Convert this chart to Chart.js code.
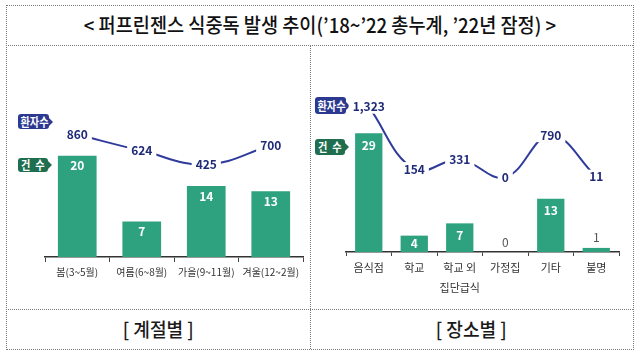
<!DOCTYPE html>
<html><head><meta charset="utf-8">
<script src="https://cdn.jsdelivr.net/npm/chart.js@4.4.1/dist/chart.umd.min.js"></script>
<style>
html,body{margin:0;padding:0;background:#fff;width:640px;height:358px;overflow:hidden;font-family:'Noto Sans CJK KR','Noto Sans',sans-serif;}
.b{position:absolute;border-color:#7a7a7a;border-style:dotted;border-width:0;}
.title{position:absolute;left:6px;top:5px;width:627px;height:40px;line-height:40px;text-align:center;font-size:20px;font-weight:500;color:#111;}
.title span{display:inline-block;transform:scaleX(0.93);white-space:nowrap;}
.cap{position:absolute;top:309px;height:40px;line-height:40px;text-align:center;font-size:19px;font-weight:500;color:#1a1a1a;}
.cap span{display:inline-block;transform:scaleX(0.95);white-space:pre;}
.badge{position:absolute;color:#fff;font-weight:bold;font-size:12px;text-align:center;border-radius:3px;white-space:pre;}
.badge span{display:inline-block;transform:scaleX(0.85);white-space:pre;word-spacing:3px;}
.badge:after{content:"";position:absolute;right:-4px;top:50%;margin-top:-4px;border-left:4px solid var(--c);border-top:4px solid transparent;border-bottom:4px solid transparent;}
canvas{position:absolute;}
</style></head>
<body>
<div class="b" style="left:6px;top:5px;width:626px;height:343px;border-width:1px;"></div>
<div class="b" style="left:6px;top:45px;width:627px;height:0;border-top-width:1px;"></div>
<div class="b" style="left:6px;top:309px;width:627px;height:0;border-top-width:1px;"></div>
<div class="b" style="left:310px;top:45px;width:0;height:304px;border-left-width:1px;"></div>
<div class="title"><span>&lt; 퍼프린젠스 식중독 발생 추이(’18~’22 총누계, ’22년 잠정) &gt;</span></div>
<div class="cap" style="left:6px;width:304px;"><span>[ 계절별 ]</span></div>
<div class="cap" style="left:310px;width:323px;"><span>[ 장소별 ]</span></div>

<div class="badge" style="--c:#2b3990;background:#2b3990;left:18px;top:114px;width:31px;height:15px;line-height:15px;"><span>환자수</span></div>
<div class="badge" style="--c:#1f6e4f;background:#1f6e4f;left:18px;top:158px;width:30px;height:14px;line-height:14px;"><span>건 수</span></div>
<div class="badge" style="--c:#2b3990;background:#2b3990;left:315px;top:97px;width:31px;height:17px;line-height:17px;"><span>환자수</span></div>
<div class="badge" style="--c:#1f6e4f;background:#1f6e4f;left:315px;top:139px;width:30px;height:16px;line-height:16px;"><span>건 수</span></div>

<canvas id="c1" width="310" height="310" style="left:0;top:0;width:310px;height:310px;"></canvas>
<canvas id="c2" width="323" height="310" style="left:310px;top:0;width:323px;height:310px;"></canvas>

<script>
// ---- data ----
const seasonLabels = ['봄(3~5월)', '여름(6~8월)', '가을(9~11월)', '겨울(12~2월)'];
const seasonCases = [20, 7, 14, 13];
const seasonPatients = [860, 624, 425, 700];

const placeLabels = ['음식점', '학교', ['학교 외', '집단급식'], '가정집', '기타', '불명'];
const placeCases = [29, 4, 7, 0, 13, 1];
const placePatients = [1323, 154, 331, 0, 790, 11];

// ---- styles ----
const BAR = '#2ea27f';
const LINE = '#2f3b9b';
const LINETXT = '#1f2a78';
const NUMFONT = "'Liberation Sans Narrow','Noto Sans CJK KR',sans-serif";
const KFONT = "'Noto Sans CJK KR','Noto Sans',sans-serif";

function fmt(v){ return v.toLocaleString('en-US'); }

function makeLabelPlugin(offset){
  return {
    id: 'vlabels',
    afterDatasetsDraw(chart){
      const ctx = chart.ctx;
      const bm = chart.getDatasetMeta(0);
      const bd = chart.data.datasets[0].data;
      bm.data.forEach((el, i) => {
        const v = bd[i];
        ctx.save();
        ctx.textAlign = 'center'; ctx.textBaseline = 'middle';
        if (v <= 1) {
          ctx.font = '12px ' + NUMFONT; ctx.fillStyle = '#555';
          ctx.fillText(String(v), el.x, el.y - 10);
        } else {
          const h = el.base - el.y;
          ctx.font = 'bold 12px ' + NUMFONT; ctx.fillStyle = '#fff';
          ctx.fillText(String(v), el.x, el.y + Math.min(offset, h / 2));
        }
        ctx.restore();
      });
      const lm = chart.getDatasetMeta(1);
      const ld = chart.data.datasets[1].data;
      lm.data.forEach((el, i) => {
        const t = fmt(ld[i]);
        ctx.save();
        ctx.font = 'bold 12px ' + NUMFONT;
        const w = ctx.measureText(t).width;
        ctx.fillStyle = '#fff';
        ctx.fillRect(el.x - w / 2 - 4, el.y - 7, w + 8, 14);
        ctx.fillStyle = LINETXT; ctx.textAlign = 'center'; ctx.textBaseline = 'middle';
        ctx.fillText(t, el.x, el.y);
        ctx.restore();
      });
    }
  };
}

function makeChart(id, labels, cases, patients, o){
  return new Chart(document.getElementById(id), {
    data: {
      labels: labels,
      datasets: [
        { type: 'bar', data: cases, backgroundColor: BAR, yAxisID: 'y', barPercentage: 0.6, categoryPercentage: 1.0, order: 2 },
        { type: 'line', data: patients, borderColor: LINE, borderWidth: 2, pointRadius: 0, tension: 0.4, yAxisID: 'y2', order: 1, fill: false }
      ]
    },
    options: {
      responsive: false, animation: false,
      layout: { padding: { left: o.padL, right: o.padR, top: o.padT, bottom: 0 } },
      plugins: { legend: { display: false }, tooltip: { enabled: false } },
      scales: {
        x: {
          grid: { drawOnChartArea: false, color: '#444', tickLength: o.tickLen, offset: true },
          border: { color: '#333', width: 1.5 },
          ticks: { color: '#333', font: { family: KFONT, size: o.fs, lineHeight: o.lh }, padding: o.tickPad, maxRotation: 0, autoSkip: false },
          afterFit(s){ s.height = o.xh; }
        },
        y: { display: false, min: 0, max: o.yMax },
        y2: { display: false, min: o.y2Min, max: o.y2Max }
      }
    },
    plugins: [makeLabelPlugin(o.off)]
  });
}

makeChart('c1', seasonLabels, seasonCases, seasonPatients,
  { padL: 45, padR: 7, padT: 60, xh: 53, yMax: 38.9, y2Min: -914, y2Max: 1939, fs: 10, lh: 1.2, tickLen: 5, tickPad: 4, off: 10 });
makeChart('c2', placeLabels, placeCases, placePatients,
  { padL: 36, padR: 14, padT: 60, xh: 58, yMax: 46.9, y2Min: -1400, y2Max: 2198, fs: 11, lh: 1.8, tickLen: 4, tickPad: 2, off: 12 });
</script>
</body></html>
